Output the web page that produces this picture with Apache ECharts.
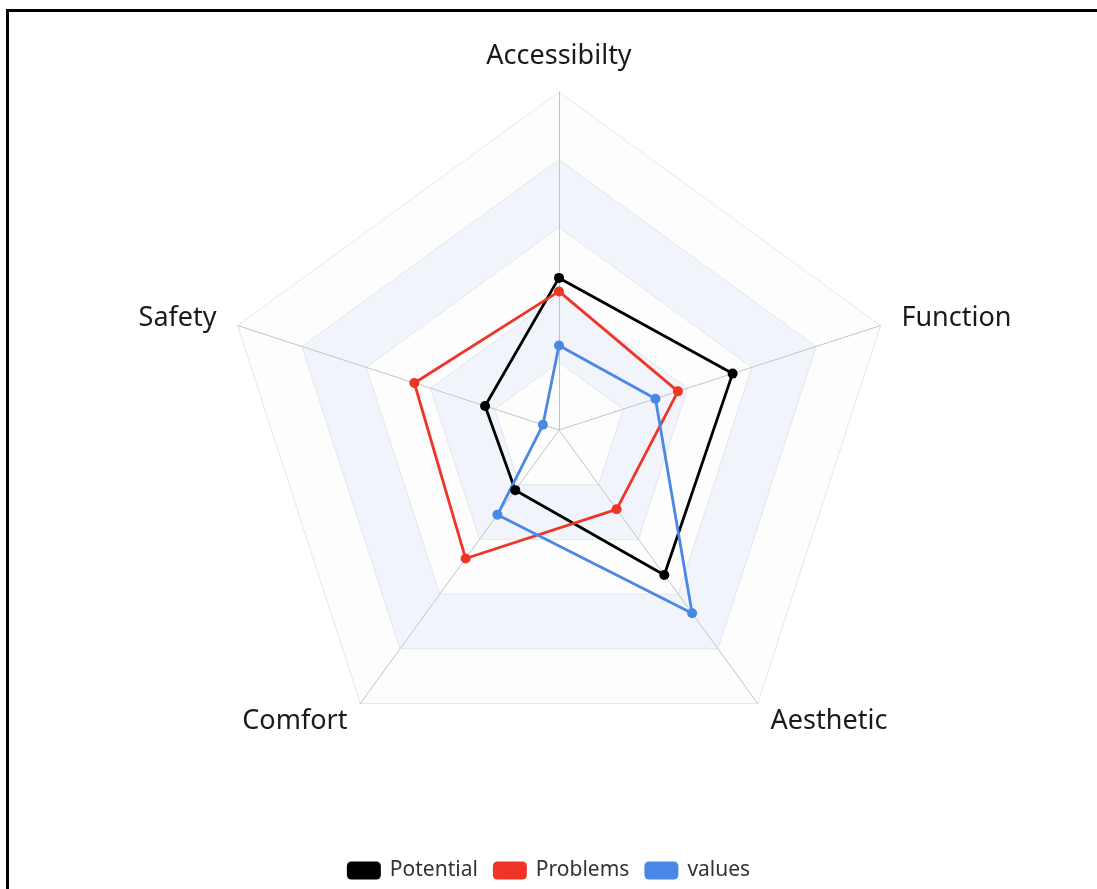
<!DOCTYPE html>
<html>
<head>
<meta charset="utf-8">
<title>radar</title>
<script src="https://cdn.jsdelivr.net/npm/echarts@6/dist/echarts.min.js"></script>
<style>
  html, body { margin: 0; padding: 0; background: #fff; }
  #frame {
    position: absolute; left: 6px; top: 9px; width: 1200px; height: 1000px;
    border-top: 3px solid #000; border-left: 3px solid #000;
  }
  #radarChart { position: absolute; left: 0; top: 0; width: 1097px; height: 889px; }
</style>
</head>
<body>
<div id="frame"></div>
<div id="radarChart"></div>
<script>
// 指标（逆时针顺序，从顶部开始）
const indicators = ["Accessibilty", "Safety", "Comfort", "Aesthetic", "Function"];
const maxValue = 100;

const potential = [45, 23, 22, 53, 54];
const problems = [41, 45, 47, 29, 37];
const valuesData = [25, 5, 31, 67, 30];

const seriesNames = ["Potential", "Problems", "values"];
const seriesColors = ["#000000", "#ef3528", "#4a87e6"];

const chart = echarts.init(document.getElementById("radarChart"));

const options = {
  color: seriesColors,
  legend: {
    bottom: 3,
    data: seriesNames,
    icon: "roundRect",
    itemWidth: 34,
    itemHeight: 18,
    itemGap: 15,
    textStyle: {
      fontSize: 21,
      color: "#333",
      fontFamily: "Noto Sans",
      padding: [0, 0, 0, 4],
    },
  },
  radar: {
    center: [559, 430],
    radius: 338,
    splitNumber: 5,
    indicator: indicators.map((name) => ({ name: name, max: maxValue })),
    axisName: {
      color: "#1a1a1a",
      fontSize: 27,
      fontFamily: "Noto Sans",
    },
    nameGap: 22,
    axisLine: {
      lineStyle: { color: "#c4c4c4" },
    },
    splitLine: {
      lineStyle: { color: "#e3e6ee" },
    },
    splitArea: {
      areaStyle: {
        color: ["rgba(250,250,250,0.3)", "rgba(210,219,238,0.3)"],
      },
    },
  },
  series: [
    {
      type: "radar",
      symbol: "circle",
      symbolSize: 10,
      lineStyle: { width: 2.8 },
      data: [
        { name: seriesNames[0], value: potential },
        { name: seriesNames[1], value: problems },
        { name: seriesNames[2], value: valuesData },
      ],
    },
  ],
};

chart.setOption(options);

window.addEventListener("resize", () => {
  chart.resize();
});
</script>
</body>
</html>
